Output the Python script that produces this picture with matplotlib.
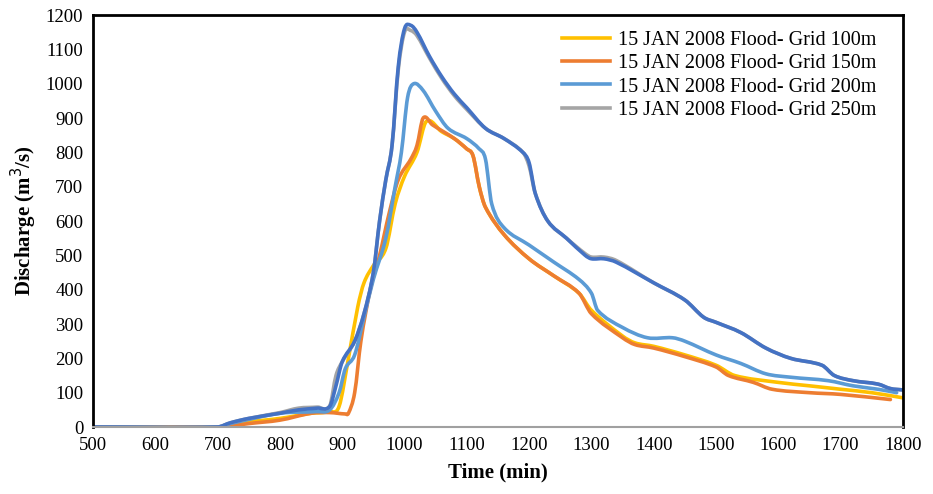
import numpy as np
import matplotlib.pyplot as plt
from matplotlib.path import Path
from matplotlib.patches import PathPatch
from matplotlib.lines import Line2D

plt.rcParams['font.family'] = ['Liberation Serif', 'DejaVu Serif']

# hydrograph samples (time in min, discharge in m3/s)
t_100 = [500, 700, 720, 750, 800, 850, 880, 895, 910, 925, 935, 950, 970, 985, 1000, 1020, 1035,
         1060, 1080, 1100, 1110, 1120, 1130, 1160, 1200, 1240, 1280, 1300, 1350, 1370, 1400, 1450,
         1500, 1530, 1600, 1650, 1700, 1750, 1800]
q_100 = [0, 0, 5, 15, 25, 40, 45, 60, 200, 350, 420, 470, 520, 650, 730, 800, 890,
         860, 840, 810, 790, 700, 640, 560, 490, 440, 390, 340, 265, 245, 235, 210,
         180, 150, 130, 120, 110, 100, 85]

t_150 = [500, 700, 720, 750, 800, 850, 880, 905, 910, 920, 930, 945, 960, 975, 990, 1010, 1020,
         1030, 1045, 1080, 1100, 1110, 1120, 1130, 1160, 1200, 1240, 1280, 1300, 1350, 1370, 1400,
         1450, 1500, 1520, 1560, 1590, 1650, 1700, 1780]
q_150 = [0, 0, 3, 10, 20, 40, 42, 38, 40, 100, 250, 400, 500, 620, 720, 780, 820,
         900, 880, 840, 810, 790, 700, 640, 560, 490, 440, 390, 330, 260, 240, 230,
         205, 175, 150, 130, 110, 100, 95, 80]

t_200 = [500, 700, 720, 800, 860, 880, 895, 905, 920, 935, 950, 970, 985, 995, 1005, 1015, 1030,
         1050, 1070, 1100, 1120, 1130, 1140, 1160, 1200, 1240, 1280, 1300, 1310, 1350, 1390, 1430,
         1450, 1500, 1540, 1580, 1620, 1680, 1720, 1760, 1790]
q_200 = [0, 0, 10, 40, 45, 50, 100, 170, 210, 320, 430, 550, 700, 800, 960, 1000, 980,
         920, 870, 840, 810, 780, 650, 580, 530, 480, 430, 390, 340, 290, 260, 260,
         250, 210, 185, 155, 145, 135, 120, 110, 100]

t_250 = [500, 700, 720, 750, 800, 830, 860, 880, 890, 900, 920, 935, 950, 960, 970, 980, 990,
         1000, 1010, 1020, 1040, 1060, 1080, 1100, 1130, 1160, 1190, 1200, 1210, 1230, 1260, 1290,
         1300, 1320, 1340, 1400, 1450, 1480, 1500, 1540, 1580, 1620, 1670, 1690, 1720, 1760, 1780,
         1800]
q_250 = [0, 0, 12, 25, 42, 55, 58, 62, 150, 190, 250, 330, 450, 600, 720, 820, 1040,
         1150, 1155, 1140, 1075, 1015, 965, 925, 870, 840, 800, 760, 680, 600, 550, 505,
         495, 495, 485, 420, 370, 320, 305, 275, 230, 200, 180, 150, 135, 125, 112,
         108]

# fifth run (not in legend), nearly on top of the 250 m run
t_ref = t_250
q_ref = [0, 0, 12, 25, 40, 50, 55, 60, 120, 190, 250, 330, 450, 600, 720, 820, 1050,
         1160, 1170, 1150, 1080, 1020, 970, 930, 870, 840, 800, 770, 680, 600, 550, 500,
         490, 490, 480, 420, 370, 320, 305, 275, 230, 200, 180, 150, 135, 125, 112,
         108]


def smooth_path(x, y):
    # smoothed line: cubic Bezier segments through every point,
    # tangents from neighbouring points, handles kept inside each x interval
    x = np.asarray(x, float)
    y = np.asarray(y, float)
    n = len(x)
    m = np.zeros(n)
    m[0] = (y[1] - y[0]) / (x[1] - x[0])
    m[-1] = (y[-1] - y[-2]) / (x[-1] - x[-2])
    m[1:-1] = (y[2:] - y[:-2]) / (x[2:] - x[:-2])
    verts = [(x[0], y[0])]
    codes = [Path.MOVETO]
    for i in range(n - 1):
        h = (x[i + 1] - x[i]) / 3
        verts += [(x[i] + h, y[i] + m[i] * h),
                  (x[i + 1] - h, y[i + 1] - m[i + 1] * h),
                  (x[i + 1], y[i + 1])]
        codes += [Path.CURVE4] * 3
    return Path(verts, codes)


fig = plt.figure(figsize=(9.33, 4.94), dpi=100)
ax = fig.add_axes([0.0997, 0.1356, 0.868, 0.834])

lw = 2.6
series = [
    (t_100, q_100, '#FFC000', '15 JAN 2008 Flood- Grid 100m'),
    (t_150, q_150, '#ED7D31', '15 JAN 2008 Flood- Grid 150m'),
    (t_200, q_200, '#5B9BD5', '15 JAN 2008 Flood- Grid 200m'),
    (t_250, q_250, '#A5A5A5', '15 JAN 2008 Flood- Grid 250m'),
    (t_ref, q_ref, '#4472C4', None),
]
handles = []
for t, q, c, lab in series:
    ax.add_patch(PathPatch(smooth_path(t, q), fill=False, edgecolor=c, lw=lw,
                           capstyle='round', joinstyle='round'))
    if lab:
        handles.append(Line2D([], [], color=c, lw=lw, label=lab))

ax.set_xlim(500, 1800)
ax.set_ylim(0, 1200)
ax.set_xticks(np.arange(500, 1801, 100))
ax.set_yticks(np.arange(0, 1201, 100))
ax.tick_params(labelsize=13.5, length=0, pad=7)

for s in ['top', 'right', 'left']:
    ax.spines[s].set_color('black')
    ax.spines[s].set_linewidth(2)
ax.spines['bottom'].set_color('#A0A0A0')
ax.spines['bottom'].set_linewidth(1.5)

ax.set_xlabel('Time (min)', fontsize=15, fontweight='bold', labelpad=6)
ax.set_ylabel('Discharge (m$^3$/s)', fontsize=15, fontweight='bold', labelpad=5)

ax.legend(handles=handles, loc='upper right', frameon=False, fontsize=14.5,
          handlelength=2.4, handletextpad=0.4, borderaxespad=0.3, labelspacing=0.2,
          bbox_to_anchor=(0.985, 0.995))

fig.savefig('out.png', dpi=100)
